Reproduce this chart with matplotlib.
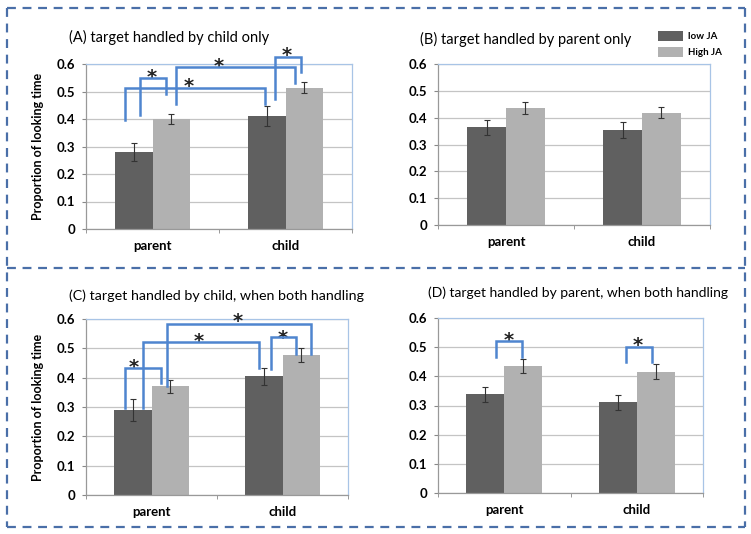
import numpy as np
import matplotlib
matplotlib.use('Agg')
from matplotlib import pyplot as plt
from matplotlib.lines import Line2D
from matplotlib.patches import Patch

plt.rcParams['font.family'] = ['Lato', 'DejaVu Sans']

categories = ['parent', 'child']
series = ['low JA', 'High JA']

# values per panel: [low JA, High JA] for parent and child
a_low = [0.28, 0.411]
a_high = [0.40, 0.513]
a_low_err = [0.032, 0.037]
a_high_err = [0.018, 0.02]

b_low = [0.364, 0.355]
b_high = [0.435, 0.418]
b_low_err = [0.027, 0.029]
b_high_err = [0.022, 0.02]

c_low = [0.289, 0.404]
c_high = [0.37, 0.477]
c_low_err = [0.037, 0.028]
c_high_err = [0.021, 0.025]

d_low = [0.338, 0.311]
d_high = [0.437, 0.416]
d_low_err = [0.026, 0.026]
d_high_err = [0.024, 0.025]

titles = ['(A) target handled by child only',
          '(B) target handled by parent only',
          '(C) target handled by child, when both handling',
          '(D) target handled by parent, when both handling']

# significance brackets: (x_left, y_left_bottom, x_right, y_right_bottom, y_top, star_x, star_y)
a_brackets = [(-0.209, 0.398, 0.843, 0.455, 0.511, 0.27, 0.537),
              (-0.093, 0.416, 0.102, 0.491, 0.549, -0.006, 0.573),
              (0.178, 0.455, 1.073, 0.531, 0.588, 0.496, 0.612),
              (0.918, 0.473, 1.119, 0.570, 0.624, 1.006, 0.652)]
b_brackets = []
c_brackets = [(-0.203, 0.298, 0.074, 0.381, 0.433, -0.139, 0.455),
              (-0.063, 0.298, 0.819, 0.432, 0.520, 0.362, 0.543),
              (0.115, 0.370, 1.215, 0.480, 0.584, 0.661, 0.609),
              (0.910, 0.429, 1.104, 0.480, 0.537, 0.999, 0.554)]
d_brackets = [(-0.06, 0.466, 0.136, 0.466, 0.520, 0.036, 0.543),
              (0.916, 0.449, 1.115, 0.449, 0.500, 1.004, 0.526)]

W, H = 751, 534
fig = plt.figure(figsize=(W / 100, H / 100), dpi=100)

dark = '#606060'
light = '#b1b1b1'
blue = '#4f85cf'
width = 0.285


def px(x, y):
    return x / W, 1 - y / H


def make_panel(box, low, high, low_err, high_err, brackets, ylabel):
    l, t, r, b = box
    ax = fig.add_axes([l / W, 1 - b / H, (r - l) / W, (b - t) / H])
    x = np.arange(len(categories))
    ax.bar(x - width / 2, low, width, color=dark, zorder=2)
    ax.bar(x + width / 2, high, width, color=light, zorder=2)
    ax.errorbar(x - width / 2, low, yerr=low_err, fmt='none', ecolor='#333333',
                elinewidth=0.8, capsize=2, capthick=0.8, zorder=3)
    ax.errorbar(x + width / 2, high, yerr=high_err, fmt='none', ecolor='#333333',
                elinewidth=0.8, capsize=2, capthick=0.8, zorder=3)
    ax.set_xlim(-0.5, 1.5)
    ax.set_ylim(0, 0.6)
    ax.set_yticks(np.arange(0, 0.61, 0.1))
    ax.set_yticklabels(['0', '0.1', '0.2', '0.3', '0.4', '0.5', '0.6'],
                       fontweight='bold', fontsize=9.5)
    ax.set_xticks(x)
    ax.set_xticklabels(categories, fontweight='bold', fontsize=9.5)
    ax.tick_params(axis='x', length=0, pad=8)
    ax.tick_params(axis='y', length=3, color='#888888', pad=5)
    ax.set_xticks([-0.5, 0.5, 1.5], minor=True)
    ax.tick_params(axis='x', which='minor', length=3, color='#888888')
    ax.grid(axis='y', color='#c4c4c4', lw=0.9, zorder=0)
    ax.set_axisbelow(True)
    for s in ['top', 'right']:
        ax.spines[s].set_color('#a8c4e6')
        ax.spines[s].set_linewidth(0.9)
    for s in ['left', 'bottom']:
        ax.spines[s].set_color('#999999')
        ax.spines[s].set_linewidth(0.9)
    for xl, yl, xr, yr, yt, sx, sy in brackets:
        ax.plot([xl, xl, xr, xr], [yl, yt, yt, yr], color=blue, lw=1.8,
                clip_on=False, zorder=4, solid_joinstyle='miter')
        ax.annotate('*', (sx, sy), xytext=(0, -8), textcoords='offset points',
                    ha='center', va='baseline', fontsize=14, fontweight='bold',
                    color='#222222', annotation_clip=False, family='DejaVu Sans')
    if ylabel:
        ax.set_ylabel('Proportion of looking time', fontweight='bold',
                      fontsize=9, labelpad=9)
    return ax


make_panel((86, 64, 352, 229), a_low, a_high, a_low_err, a_high_err, a_brackets, True)
make_panel((438, 64, 710, 225), b_low, b_high, b_low_err, b_high_err, b_brackets, False)
make_panel((86, 319, 348, 495), c_low, c_high, c_low_err, c_high_err, c_brackets, True)
make_panel((438, 318, 703, 493), d_low, d_high, d_low_err, d_high_err, d_brackets, False)

for (tx, ty), t, fs in zip([(69, 37), (420, 39), (69, 296), (428, 293)], titles,
                           [10.5, 10.5, 10.3, 10.0]):
    fig.text(*px(tx, ty), t, ha='left', va='center', fontsize=fs)

# legend
handles = [Patch(facecolor=dark), Patch(facecolor=light)]
fig.legend(handles, series, loc='upper left', bbox_to_anchor=px(649, 22),
           frameon=False, prop={'size': 7, 'weight': 'bold'},
           handlelength=2.6, handleheight=1.3, labelspacing=0.55, handletextpad=0.5)

# dashed frame
frame_color = '#4a6fa8'
dash = dict(color=frame_color, lw=1.6, linestyle=(0, (4, 3)),
            transform=fig.transFigure)
x0, x1 = 7 / W, 745 / W
y0, y1, ym = 1 - 8 / H, 1 - 527 / H, 1 - 268 / H
fig.add_artist(Line2D([x0, x1], [y0, y0], **dash))
fig.add_artist(Line2D([x0, x1], [y1, y1], **dash))
fig.add_artist(Line2D([x0, x1], [ym, ym], **dash))
fig.add_artist(Line2D([x0, x0], [y0, y1], **dash))
fig.add_artist(Line2D([x1, x1], [y0, y1], **dash))

plt.savefig('out.png', dpi=100)
